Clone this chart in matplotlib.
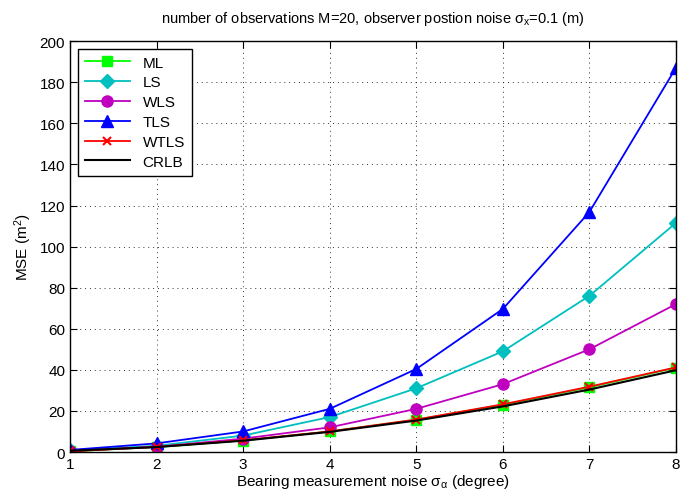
import numpy as np
import matplotlib.pyplot as plt

plt.rcParams['font.family'] = ['Liberation Sans', 'DejaVu Sans']
plt.rcParams['mathtext.fontset'] = 'custom'
plt.rcParams['mathtext.rm'] = 'Liberation Sans'
plt.rcParams['mathtext.it'] = 'Liberation Sans'
plt.rcParams['mathtext.bf'] = 'Liberation Sans:bold'

# 데이터
sigma = [1, 2, 3, 4, 5, 6, 7, 8]
ml = [0.3, 2.4, 5.6, 10.0, 15.7, 23.0, 31.5, 41.0]
ls = [0.8, 3.0, 8.0, 17.0, 31.0, 49.0, 76.0, 111.5]
wls = [0.5, 2.5, 6.5, 12.0, 21.0, 33.0, 50.0, 72.0]
tls = [1.0, 4.2, 10.0, 21.0, 40.4, 69.6, 116.8, 187.0]
wtls = [0.3, 2.5, 5.7, 10.0, 15.8, 23.2, 31.8, 41.2]
crlb = [0.6, 2.4, 5.5, 9.8, 15.3, 22.2, 30.4, 39.8]

fig = plt.figure(figsize=(6.89, 5.02), dpi=100)
ax = fig.add_axes([0.1016, 0.0976, 0.8794, 0.8184])

ax.plot(sigma, ml, color=(0, 1, 0), marker='s', markersize=7, lw=1.3, label='ML')
ax.plot(sigma, ls, color=(0, 0.75, 0.75), marker='D', markersize=7, lw=1.3, label='LS')
ax.plot(sigma, wls, color=(0.75, 0, 0.75), marker='o', markersize=8, lw=1.3, label='WLS')
ax.plot(sigma, tls, color='blue', marker='^', markersize=9, lw=1.3, label='TLS')
ax.plot(sigma, wtls, color='red', marker='x', markersize=6, mew=1.5, lw=1.3, label='WTLS')
ax.plot(sigma, crlb, color='black', lw=1.5, label='CRLB')

ax.set_xlim(1, 8)
ax.set_ylim(0, 200)
ax.set_xticks(range(1, 9))
ax.set_yticks(range(0, 201, 20))
ax.tick_params(direction='in', top=True, right=True, labelsize=11, length=5)
ax.grid(True, linestyle=(0, (1, 4)), color='black', lw=0.7, alpha=0.8)
for s in ax.spines.values():
    s.set_linewidth(1.0)

ax.set_xlabel(r'Bearing measurement noise $\sigma_{\alpha}$ (degree)', fontsize=11, labelpad=1)
ax.set_ylabel(r'MSE (m$^2$)', fontsize=11)
ax.set_title(r'number of observations M=20, observer postion noise $\sigma_{x}$=0.1 (m)', fontsize=10.5, pad=14)

leg = ax.legend(loc='upper left', fontsize=11, fancybox=False, edgecolor='black',
                framealpha=1, borderaxespad=0.5, handlelength=3, labelspacing=0.38,
                borderpad=0.45)
leg.get_frame().set_linewidth(1.0)

plt.savefig('out.png', dpi=100)
